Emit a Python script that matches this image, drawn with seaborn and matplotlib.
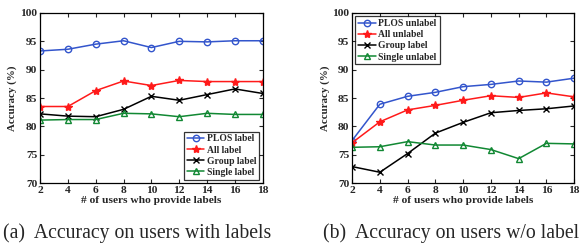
import matplotlib
matplotlib.use("Agg")
import matplotlib.pyplot as plt
import seaborn as sns
import pandas as pd

sns.set_theme(style="ticks")
plt.rcParams["font.family"] = ["Liberation Serif", "DejaVu Serif"]

# x values: number of users who provide labels
users = [2, 4, 6, 8, 10, 12, 14, 16, 18]

# (a) accuracy on users with labels
plos_label = [93.3, 93.6, 94.5, 95.1, 93.9, 95.0, 94.9, 95.1, 95.1]
all_label = [83.5, 83.5, 86.3, 88.0, 87.2, 88.1, 87.9, 87.9, 87.9]
group_label_a = [82.2, 81.8, 81.7, 83.0, 85.3, 84.6, 85.6, 86.6, 85.8]
single_label = [81.1, 81.2, 81.2, 82.3, 82.2, 81.7, 82.3, 82.1, 82.1]

# (b) accuracy on users without labels
plos_unlabel = [77.5, 83.9, 85.3, 86.0, 87.0, 87.4, 88.0, 87.8, 88.5]
all_unlabel = [77.1, 80.8, 82.9, 83.7, 84.6, 85.4, 85.1, 85.9, 85.2]
group_label_b = [72.9, 71.9, 75.2, 78.8, 80.7, 82.4, 82.8, 83.1, 83.6]
single_unlabel = [76.3, 76.4, 77.3, 76.7, 76.7, 75.9, 74.3, 77.0, 76.9]

names_a = ["PLOS label", "All label", "Group label", "Single label"]
names_b = ["PLOS unlabel", "All unlabel", "Group label", "Single unlabel"]

colors = ["#3355cc", "#ff1a1a", "#000000", "#118833"]
markers = ["o", "*", "x", "^"]
filled = [False, True, True, False]


def make_df(names, series):
    rows = []
    for name, vals in zip(names, series):
        for u, v in zip(users, vals):
            rows.append({"users": u, "acc": v, "method": name})
    return pd.DataFrame(rows)


df_a = make_df(names_a, [plos_label, all_label, group_label_a, single_label])
df_b = make_df(names_b, [plos_unlabel, all_unlabel, group_label_b, single_unlabel])

fig = plt.figure(figsize=(5.8, 2.45), dpi=100)
ax_a = fig.add_axes([0.069, 0.253, 0.384, 0.694])
ax_b = fig.add_axes([0.607, 0.253, 0.383, 0.694])

serif = ["Liberation Serif", "DejaVu Serif"]
tick_font = {"family": serif, "weight": "bold", "size": 8.2}
label_font = {"family": serif, "weight": "bold", "size": 8.2}
legend_font = {"family": serif, "weight": "bold", "size": 6.9}

for ax, df, names, loc in [(ax_a, df_a, names_a, "lower right"),
                           (ax_b, df_b, names_b, "upper left")]:
    for name, c, m, f in zip(names, colors, markers, filled):
        sub = df[df["method"] == name]
        sns.lineplot(data=sub, x="users", y="acc", ax=ax, color=c, marker=m,
                     markersize=6 if m == "*" else 4.6,
                     markerfacecolor=c if f else "none",
                     markeredgecolor=c, markeredgewidth=1.0,
                     linewidth=1.1, label=name)
    ax.set_xlim(2, 18)
    ax.set_ylim(70, 100)
    ax.set_xticks(users)
    ax.set_yticks(range(70, 101, 5))
    ax.tick_params(direction="in", top=True, right=True, length=3, width=0.8, pad=2)
    for lbl in ax.get_xticklabels() + ax.get_yticklabels():
        lbl.set_fontproperties(tick_font)
    for sp in ax.spines.values():
        sp.set_linewidth(0.9)
        sp.set_color("black")
    ax.set_xlabel("# of users who provide labels", fontdict=label_font, labelpad=1)
    ax.set_ylabel("Accuracy (%)", fontdict={"family": serif, "weight": "bold", "size": 7.8},
                  labelpad=2)
    leg = ax.legend(loc=loc, prop=legend_font, frameon=True, fancybox=False,
                    edgecolor="black", handlelength=1.8, handletextpad=0.3,
                    labelspacing=0.22, borderpad=0.3, borderaxespad=0.35)
    leg.get_frame().set_linewidth(0.9)

fig.text(0.236, 0.05, "(a)  Accuracy on users with labels", ha="center", va="center",
         fontsize=14.2, family=serif)
fig.text(0.778, 0.05, "(b)  Accuracy on users w/o label", ha="center", va="center",
         fontsize=14.2, family=serif)

fig.savefig("out.png", dpi=100)
